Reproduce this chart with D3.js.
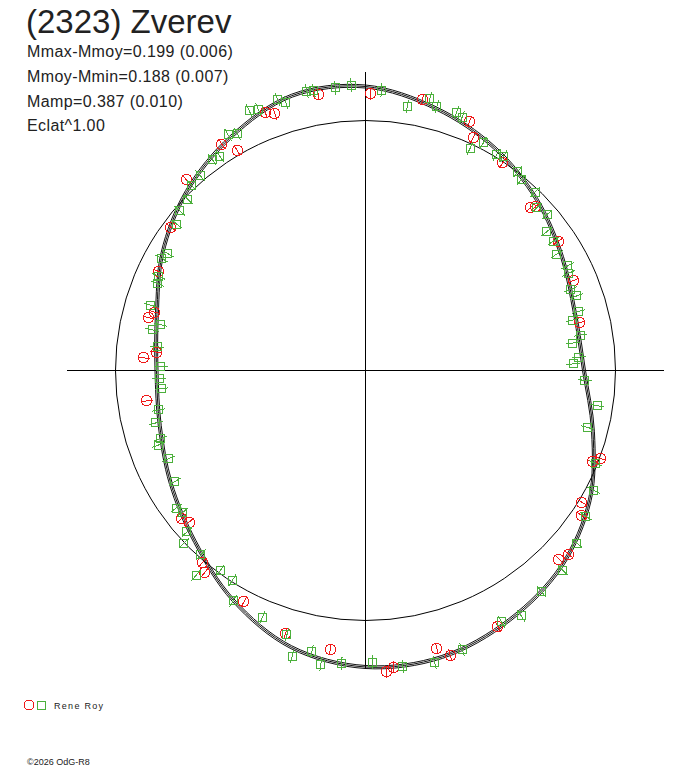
<!DOCTYPE html>
<html>
<head>
<meta charset="utf-8">
<script src="https://cdn.jsdelivr.net/npm/d3@7"></script>
<style>
  body { margin: 0; background: #fff; }
  text { font-family: Arial, "Liberation Sans", sans-serif; }
</style>
</head>
<body>
<svg width="688" height="768"></svg>
<script>
// chart data
var title = "(2323) Zverev";
var infoLines = ["Mmax-Mmoy=0.199 (0.006)", "Mmoy-Mmin=0.188 (0.007)", "Mamp=0.387 (0.010)", "Eclat^1.00"];
var observer = "Rene Roy";
var footer = "\u00a92026 OdG-R8";

// fitted curve (phase in degrees, relative flux)
var fitAngle = [0, 15, 30, 45, 60, 75, 90, 105, 120, 135, 150, 165, 180, 195, 210, 225, 240, 255, 270, 285, 300, 315, 330, 345];
var fitFlux = [1.136, 1.086, 1.030, 0.968, 0.908, 0.868, 0.874, 0.942, 1.036, 1.108, 1.152, 1.186, 1.186, 1.146, 1.060, 0.966, 0.900, 0.852, 0.836, 0.864, 0.938, 1.012, 1.078, 1.138];
var fitSigma = 0.006;

// session 1 (red circles)
var s1Phase = [0.003,0.973,0.941,0.946,0.910,0.916,0.880,0.851,0.821,0.793,0.788,0.764,0.759,0.728,0.642,0.637,0.612,0.607,0.577,0.547,0.520,0.489,0.485,0.460,0.454,0.424,0.373,0.367,0.337,0.344,0.311,0.307,0.215,0.185,0.156,0.126,0.128,0.093,0.069,0.063,0.033];
var s1Flux = [1.108,1.121,1.108,1.089,1.072,1.020,1.047,0.967,0.918,0.876,0.893,0.840,0.889,0.884,0.944,0.930,1.007,1.031,1.045,1.100,1.125,1.207,1.193,1.148,1.188,1.152,1.080,1.096,1.013,1.041,0.978,1.004,0.877,0.906,0.929,0.930,0.945,0.996,1.026,1.079,1.108];
var s1Err = 0.024;

// session 2 (green squares)
var s2Phase = [0.992,0.009,0.025,0.037,0.042,0.054,0.058,0.070,0.076,0.087,
  0.091,0.104,0.109,0.121,0.129,0.137,0.146,0.154,0.163,0.174,
  0.179,0.190,0.196,0.207,0.212,0.224,0.229,0.240,0.245,0.257,
  0.274,0.290,0.311,0.327,0.343,0.359,0.376,0.393,0.410,0.421,
  0.447,0.463,0.480,0.496,0.513,0.524,0.530,0.540,0.546,0.563,
  0.583,0.590,0.600,0.610,0.616,0.629,0.633,0.645,0.650,0.666,
  0.683,0.695,0.699,0.711,0.720,0.736,0.744,0.753,0.768,0.780,
  0.785,0.797,0.813,0.818,0.830,0.835,0.855,0.863,0.872,0.880,
  0.888,0.900,0.905,0.916,0.921,0.933,0.938,0.950,0.954,0.967,
  0.971,0.983];
var s2Flux = [1.142,1.122,1.069,1.118,1.094,1.094,1.084,0.982,1.025,1.010,
  1.018,1.002,0.984,0.985,0.945,0.959,0.913,0.912,0.896,0.911,
  0.900,0.882,0.896,0.884,0.852,0.872,0.836,0.854,0.832,0.877,
  0.938,0.917,0.991,1.031,1.056,1.092,1.123,1.130,1.162,1.144,
  1.182,1.200,1.193,1.168,1.176,1.189,1.144,1.181,1.102,1.070,
  1.063,0.994,0.988,1.063,0.988,1.002,0.963,0.926,0.936,0.884,
  0.865,0.881,0.864,0.865,0.843,0.819,0.825,0.820,0.838,0.868,
  0.840,0.898,0.902,0.909,0.931,0.920,0.955,0.981,0.987,1.016,
  1.022,1.042,1.036,1.092,1.078,1.140,1.130,1.140,1.118,1.141,
  1.139,1.138];
var s2Err = 0.028;

var axisExtent = 1.195;

var svg = d3.select("svg");
var red = "#f01818", green = "#4cb03c";

var r = d3.scaleLinear().domain([0, 1]).range([0, 250]);
var phase = d3.scaleLinear().domain([0, 1]).range([0, 2 * Math.PI]);
var deg = d3.scaleLinear().domain([0, 360]).range([0, 2 * Math.PI]);

var g = svg.append("g").attr("transform", "translate(365.5,370.5)");

// axes
g.append("line").attr("x1", -r(axisExtent)).attr("x2", r(axisExtent))
  .attr("y1", 0).attr("y2", 0).attr("stroke", "#000").attr("shape-rendering", "crispEdges");
g.append("line").attr("y1", -r(axisExtent)).attr("y2", r(axisExtent))
  .attr("x1", 0).attr("x2", 0).attr("stroke", "#000").attr("shape-rendering", "crispEdges");

// mean brightness circle
g.append("circle").attr("r", r(1)).attr("fill", "none").attr("stroke", "#000");

// fit and its envelope
var line = d3.lineRadial()
    .angle(function(d) { return deg(d.a); })
    .radius(function(d) { return r(d.f); })
    .curve(d3.curveCatmullRomClosed);

[-1, 0, 1].forEach(function(k) {
  var pts = fitAngle.map(function(a, i) { return { a: a, f: fitFlux[i] + k * fitSigma }; });
  g.append("path").attr("d", line(pts))
    .attr("fill", "none").attr("stroke", "#111").attr("stroke-width", 1);
});

function pos(d) { return d3.pointRadial(phase(d.p), r(d.f)); }

function radialBar(sel, err) {
  sel.append("line")
    .attr("x1", function(d) { return d3.pointRadial(phase(d.p), r(d.f - err))[0]; })
    .attr("y1", function(d) { return d3.pointRadial(phase(d.p), r(d.f - err))[1]; })
    .attr("x2", function(d) { return d3.pointRadial(phase(d.p), r(d.f + err))[0]; })
    .attr("y2", function(d) { return d3.pointRadial(phase(d.p), r(d.f + err))[1]; });
}

var s1 = s1Phase.map(function(p, i) { return { p: p, f: s1Flux[i] }; });
var s2 = s2Phase.map(function(p, i) { return { p: p, f: s2Flux[i] }; });

var redG = g.append("g").attr("stroke", red).attr("fill", "none").attr("shape-rendering", "crispEdges");
var redPts = redG.selectAll("g").data(s1).enter().append("g");
redPts.append("circle")
  .attr("cx", function(d) { return Math.round(pos(d)[0]); })
  .attr("cy", function(d) { return Math.round(pos(d)[1]); })
  .attr("r", 5.2);
radialBar(redPts, s1Err);

var greenG = g.append("g").attr("stroke", green).attr("fill", "none").attr("shape-rendering", "crispEdges");
var greenPts = greenG.selectAll("g").data(s2).enter().append("g");
greenPts.append("rect")
  .attr("x", function(d) { return Math.round(pos(d)[0]) - 4; })
  .attr("y", function(d) { return Math.round(pos(d)[1]) - 4; })
  .attr("width", 8).attr("height", 8);
radialBar(greenPts, s2Err);

// texts
svg.append("text").attr("x", 26).attr("y", 33).attr("font-size", 33).attr("fill", "#222").text(title);
svg.selectAll(".info").data(infoLines).enter().append("text")
  .attr("class", "info")
  .attr("x", 27)
  .attr("y", function(d, i) { return [57, 82, 107, 131][i]; })
  .attr("font-size", 16).attr("letter-spacing", 0.4).attr("fill", "#222")
  .text(function(d) { return d; });

// legend
svg.append("circle").attr("cx", 29).attr("cy", 705).attr("r", 5).attr("fill", "none").attr("stroke", red).attr("shape-rendering", "crispEdges");
svg.append("rect").attr("x", 37.5).attr("y", 701.5).attr("width", 8).attr("height", 8).attr("fill", "none").attr("stroke", green).attr("shape-rendering", "crispEdges");
svg.append("text").attr("x", 54).attr("y", 709).attr("font-size", 9).attr("letter-spacing", 1.3).attr("fill", "#222").text(observer);

svg.append("text").attr("x", 27).attr("y", 765).attr("font-size", 9).attr("fill", "#222").text(footer);
</script>
</body>
</html>
